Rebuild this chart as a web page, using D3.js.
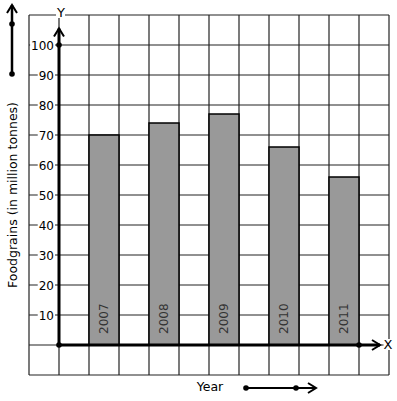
<!DOCTYPE html>
<html>
<head>
<meta charset="utf-8">
<script src="https://cdn.jsdelivr.net/npm/d3@7"></script>
<style>
  html, body { margin: 0; padding: 0; background: #fff; }
  svg { display: block; font-family: "DejaVu Sans", sans-serif; }
</style>
</head>
<body>
<div id="chart"></div>
<script>
var years = ['2007', '2008', '2009', '2010', '2011'];
var values = [70, 74, 77, 66, 56];
var yTicks = [10, 20, 30, 40, 50, 60, 70, 80, 90, 100];
var yLabel = 'Foodgrains (in million tonnes)';
var xLabel = 'Year';

(function() {
  var width = 397, height = 401;
  var svg = d3.select('#chart').append('svg')
    .attr('width', width).attr('height', height);

  // grid units: one cell = 30px, origin at column 1 / row 11
  var x = d3.scaleLinear().domain([-1, 11]).range([29, 389]);
  var y = d3.scaleLinear().domain([-10, 110]).range([375, 15]);

  var grid = svg.append('g').attr('stroke', '#222').attr('stroke-width', 1.2);
  d3.range(-1, 12).forEach(function(i) {
    grid.append('line').attr('x1', x(i)).attr('x2', x(i))
      .attr('y1', y(-10)).attr('y2', y(110));
  });
  d3.range(-10, 120, 10).forEach(function(v) {
    grid.append('line').attr('x1', x(-1)).attr('x2', x(11))
      .attr('y1', y(v)).attr('y2', y(v));
  });

  // bars
  svg.append('g').selectAll('rect').data(values).join('rect')
    .attr('x', function(d, i) { return x(2 * i + 1); })
    .attr('width', x(1) - x(0))
    .attr('y', function(d) { return y(d); })
    .attr('height', function(d) { return y(0) - y(d); })
    .attr('fill', '#999')
    .attr('stroke', '#000')
    .attr('stroke-width', 1.5);

  svg.append('g').selectAll('text').data(years).join('text')
    .attr('transform', function(d, i) {
      return 'translate(' + (x(2 * i + 1.5) + 4) + ',' + (y(0) - 11) + ') rotate(-90)';
    })
    .attr('font-size', 12)
    .attr('fill', '#333')
    .text(function(d) { return d; });

  // labels with white backing
  function boxed(sel) {
    sel.each(function() {
      var b = this.getBBox();
      d3.select(this.parentNode).insert('rect', function() { return this; }.bind(this))
        .attr('x', b.x - 1).attr('y', b.y + 2).attr('width', b.width + 2).attr('height', b.height - 3)
        .attr('fill', '#fff');
    });
  }

  var tickG = svg.append('g');
  yTicks.forEach(function(v) {
    var t = tickG.append('text')
      .attr('x', x(0) - 5).attr('y', y(v) + 4.5)
      .attr('text-anchor', 'end').attr('font-size', 12).attr('fill', '#000')
      .text(v);
    var b = t.node().getBBox();
    tickG.insert('rect', function() { return t.node(); })
      .attr('x', b.x - 1).attr('y', b.y + 2).attr('width', b.width + 2).attr('height', b.height - 3)
      .attr('fill', '#fff');
  });

  // axes
  var axes = svg.append('g').attr('stroke', '#000').attr('fill', 'none');
  axes.append('line').attr('x1', x(0)).attr('x2', x(0))
    .attr('y1', y(0)).attr('y2', y(105.5)).attr('stroke-width', 3);
  axes.append('path')
    .attr('d', 'M' + (x(0) - 5) + ',' + (y(105.5) + 8) + 'L' + x(0) + ',' + y(105.5) + 'L' + (x(0) + 5) + ',' + (y(105.5) + 8))
    .attr('stroke-width', 2);
  axes.append('line').attr('x1', x(0)).attr('x2', x(10.7))
    .attr('y1', y(0)).attr('y2', y(0)).attr('stroke-width', 3);
  axes.append('path')
    .attr('d', 'M' + (x(10.7) - 8) + ',' + (y(0) - 5) + 'L' + x(10.7) + ',' + y(0) + 'L' + (x(10.7) - 8) + ',' + (y(0) + 5))
    .attr('stroke-width', 2);

  var dots = [[x(0), y(0)], [x(0), y(100)], [x(10), y(0)]];
  svg.append('g').selectAll('circle').data(dots).join('circle')
    .attr('cx', function(d) { return d[0]; }).attr('cy', function(d) { return d[1]; })
    .attr('r', 2.8).attr('fill', '#000');

  // axis letters
  [['Y', x(0) + 2, y(110) + 2], ['X', x(11) - 1, y(0) + 4]].forEach(function(a) {
    var t = svg.append('text').attr('x', a[1]).attr('y', a[2])
      .attr('text-anchor', 'middle').attr('font-size', 13).attr('fill', '#000').text(a[0]);
    var b = t.node().getBBox();
    svg.insert('rect', function() { return t.node(); })
      .attr('x', b.x).attr('y', b.y + 2).attr('width', b.width).attr('height', b.height - 4)
      .attr('fill', '#fff');
  });

  // axis titles
  svg.append('text')
    .attr('transform', 'translate(17,195) rotate(-90)')
    .attr('text-anchor', 'middle').attr('font-size', 12.5).attr('fill', '#000')
    .text(yLabel);
  svg.append('text').attr('x', 210).attr('y', 391)
    .attr('text-anchor', 'middle').attr('font-size', 12.5).attr('fill', '#000')
    .text(xLabel);

  // scale arrows (top-left vertical, bottom horizontal)
  var legend = svg.append('g').attr('stroke', '#000').attr('fill', 'none').attr('stroke-width', 2.5);
  legend.append('line').attr('x1', 12).attr('x2', 12).attr('y1', 74).attr('y2', 5);
  legend.append('path').attr('d', 'M7,13L12,5L17,13').attr('stroke-width', 2);
  legend.append('line').attr('x1', 246).attr('x2', 316).attr('y1', 388).attr('y2', 388).attr('stroke-width', 2);
  legend.append('path').attr('d', 'M308,383L316,388L308,393').attr('stroke-width', 2);
  var ldots = [[12, 24], [12, 74], [246, 388], [296, 388]];
  svg.append('g').selectAll('circle').data(ldots).join('circle')
    .attr('cx', function(d) { return d[0]; }).attr('cy', function(d) { return d[1]; })
    .attr('r', 2.8).attr('fill', '#000');
})();
</script>
</body>
</html>
